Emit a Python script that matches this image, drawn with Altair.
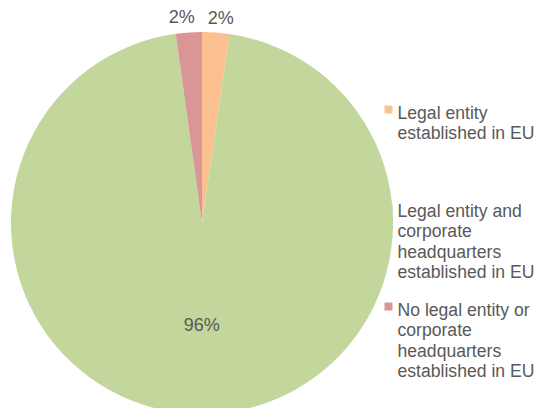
import altair as alt
import pandas as pd

categories = [
    "Legal entity established in EU",
    "Legal entity and corporate headquarters established in EU",
    "No legal entity or corporate headquarters established in EU",
]
legend_lines = [
    "Legal entity\nestablished in EU",
    "Legal entity and\ncorporate\nheadquarters\nestablished in EU",
    "No legal entity or\ncorporate\nheadquarters\nestablished in EU",
]
values = [2.3, 95.5, 2.2]
pct_labels = ["2%", "96%", "2%"]
colors = ["#FAC090", "#C3D69B", "#D99694"]

total = sum(values)
df = pd.DataFrame({"cat": categories, "value": values, "label": pct_labels, "idx": list(range(len(values)))})

FONT = "Liberation Sans"
TXT = "#595959"
CX, CY, R = 194, 215, 191

base = alt.Chart(df).transform_stack(
    stack="value", groupby=[], as_=["v0", "v1"], sort=[alt.SortField("idx")]
).transform_calculate(mid="(datum.v0 + datum.v1) / 2")

theta_scale = alt.Scale(domain=[0, total])
color_enc = alt.Color("cat:N", scale=alt.Scale(domain=categories, range=colors), legend=None)

pie = base.mark_arc(outerRadius=R, stroke=None).encode(
    x=alt.value(CX), y=alt.value(CY),
    theta=alt.Theta("v0:Q", scale=theta_scale, stack=None),
    theta2="v1:Q",
    color=color_enc,
)

def pct_layer(filt, radius, dx):
    return base.transform_filter(filt).mark_text(
        font=FONT, fontSize=18, color=TXT, baseline="middle", align="center",
        radius=radius, dx=dx
    ).encode(
        x=alt.value(CX), y=alt.value(CY),
        theta=alt.Theta("mid:Q", scale=theta_scale, stack=None),
        text="label:N",
    )

layers = [
    pie,
    pct_layer("datum.idx == 0", 205, 4),
    pct_layer("datum.idx == 2", 205, -6),
    pct_layer("datum.value >= 10", 103, 0),
]

legend_baseline = [111, 209, 308]
for cat, lines, ly in zip(categories, legend_lines, legend_baseline):
    ldf = pd.DataFrame({"cat": [cat], "txt": [lines]})
    sq = alt.Chart(ldf).mark_square(size=64, opacity=1, stroke=None).encode(
        x=alt.value(380.5), y=alt.value(ly - 9.5), color=color_enc
    )
    tx = alt.Chart(ldf).mark_text(
        font=FONT, fontSize=17.6, color=TXT, align="left", baseline="alphabetic",
        lineBreak="\n", lineHeight=20.3
    ).encode(x=alt.value(389.5), y=alt.value(ly), text="txt:N")
    layers += [sq, tx]

chart = alt.layer(*layers).properties(
    width=528, height=400, autosize=alt.AutoSizeParams(type="none"), padding=0
).configure_view(stroke=None)

chart.save("out.html", embed_options={"renderer": "svg", "actions": False})
